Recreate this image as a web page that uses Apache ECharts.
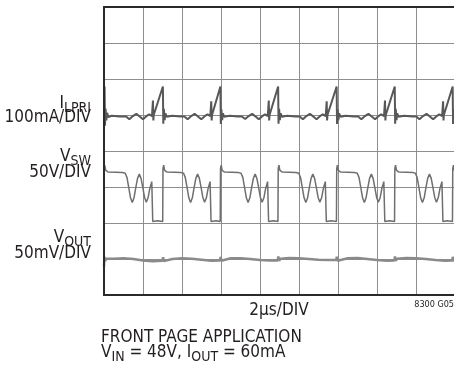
<!DOCTYPE html>
<html><head><meta charset="utf-8">
<script src="https://cdn.jsdelivr.net/npm/echarts@6/dist/echarts.min.js"></script>
<style>html,body{margin:0;padding:0;background:#fff}#c{width:454px;height:372px}</style>
</head><body><div id="c"></div>
<script>
// time in µs (2 µs/DIV), values in screen divisions (8 DIV tall)
const timeRange = [0, 20];
const divRange = [0, 8];
const traceNames = ['ILPRI', 'VSW', 'VOUT'];

const iLpri = [
 [0,5.6],[0.03,5.79],[0.05,4.7],[0.08,5.18],[0.12,4.85],[0.16,5.06],[0.22,4.94],[0.4,4.98],[0.8,4.96],[1.13,4.96],[1.30,4.88],[1.48,4.97],[1.66,5.03],[1.83,4.96],[2.0,4.88],[2.16,4.96],[2.32,5.02],[2.46,4.97],[2.50,4.97],[2.51,5.4],[2.53,4.85],[2.55,5.0],[3.02,5.79],
 [3.04,4.76],[3.07,5.17],[3.11,4.86],[3.15,5.05],[3.21,4.95],[3.5,4.98],[3.9,4.96],[4.12,4.96],[4.29,4.88],[4.47,4.97],[4.65,5.03],[4.82,4.96],[4.99,4.88],[5.15,4.96],[5.31,5.02],[5.45,4.97],[5.49,4.97],[5.50,5.38],[5.52,4.85],[5.54,5.0],[5.97,5.79],
 [5.99,4.75],[6.02,5.16],[6.06,4.86],[6.10,5.05],[6.16,4.95],[6.45,4.98],[6.85,4.96],[7.07,4.96],[7.24,4.89],[7.42,4.97],[7.60,5.03],[7.77,4.96],[7.94,4.88],[8.10,4.96],[8.26,5.02],[8.40,4.97],[8.44,4.97],[8.45,5.4],[8.47,4.85],[8.49,5.0],[8.93,5.79],
 [8.95,4.76],[8.98,5.17],[9.02,4.86],[9.06,5.05],[9.12,4.95],[9.4,4.98],[9.8,4.96],[10.03,4.96],[10.20,4.88],[10.38,4.97],[10.56,5.03],[10.73,4.96],[10.90,4.88],[11.06,4.96],[11.22,5.02],[11.37,4.97],[11.41,4.97],[11.42,5.38],[11.44,4.85],[11.46,5.0],[11.93,5.79],
 [11.95,4.75],[11.98,5.16],[12.02,4.86],[12.06,5.05],[12.12,4.95],[12.4,4.98],[12.8,4.96],[13.03,4.96],[13.20,4.88],[13.38,4.97],[13.56,5.03],[13.73,4.96],[13.90,4.88],[14.06,4.96],[14.22,5.02],[14.36,4.97],[14.40,4.97],[14.41,5.4],[14.43,4.85],[14.45,5.0],[14.91,5.79],
 [14.93,4.76],[14.96,5.17],[15.00,4.86],[15.04,5.05],[15.10,4.95],[15.4,4.98],[15.8,4.96],[16.01,4.96],[16.18,4.88],[16.36,4.97],[16.54,5.03],[16.71,4.96],[16.88,4.88],[17.04,4.96],[17.20,5.02],[17.34,4.97],[17.38,4.97],[17.39,5.38],[17.41,4.85],[17.43,5.0],[17.88,5.79],
 [17.90,4.75],[17.93,5.16],[17.97,4.86],[18.01,5.05],[18.07,4.95],[18.4,4.98],[18.9,4.96],[19.3,4.88],[19.5,4.97],[19.7,5.03],[20,4.96]
];

const vSw = [
 [0,3.47],[0.04,3.60],[0.09,3.46],[0.2,3.42],[0.6,3.41],[0.95,3.40],[1.09,3.38],[1.18,3.26],[1.27,2.98],[1.36,2.70],[1.45,2.57],[1.54,2.70],[1.63,2.98],[1.72,3.24],[1.81,3.36],[1.90,3.24],[1.99,2.98],[2.08,2.71],[2.17,2.58],[2.26,2.70],[2.35,2.96],[2.45,3.15],[2.49,3.1],[2.50,2.04],[2.75,2.06],[3.01,2.04],
 [3.025,3.52],[3.06,3.61],[3.11,3.46],[3.22,3.42],[3.6,3.41],[3.95,3.40],[4.08,3.38],[4.17,3.26],[4.26,2.98],[4.35,2.70],[4.44,2.57],[4.53,2.70],[4.62,2.98],[4.71,3.24],[4.80,3.36],[4.89,3.24],[4.98,2.98],[5.07,2.71],[5.16,2.58],[5.25,2.70],[5.34,2.96],[5.44,3.15],[5.48,3.1],[5.49,2.04],[5.75,2.06],[5.96,2.04],
 [5.975,3.52],[6.01,3.61],[6.06,3.46],[6.17,3.42],[6.55,3.41],[6.9,3.40],[7.03,3.38],[7.12,3.26],[7.21,2.98],[7.30,2.70],[7.39,2.57],[7.48,2.70],[7.57,2.98],[7.66,3.24],[7.75,3.36],[7.84,3.24],[7.93,2.98],[8.02,2.71],[8.11,2.58],[8.20,2.70],[8.29,2.96],[8.39,3.15],[8.43,3.1],[8.44,2.04],[8.7,2.06],[8.92,2.04],
 [8.935,3.52],[8.97,3.61],[9.02,3.46],[9.13,3.42],[9.5,3.41],[9.85,3.40],[9.99,3.38],[10.08,3.26],[10.17,2.98],[10.26,2.70],[10.35,2.57],[10.44,2.70],[10.53,2.98],[10.62,3.24],[10.71,3.36],[10.80,3.24],[10.89,2.98],[10.98,2.71],[11.07,2.58],[11.16,2.70],[11.25,2.96],[11.35,3.15],[11.39,3.1],[11.40,2.04],[11.65,2.06],[11.92,2.04],
 [11.935,3.52],[11.97,3.61],[12.02,3.46],[12.13,3.42],[12.5,3.41],[12.85,3.40],[12.99,3.38],[13.08,3.26],[13.17,2.98],[13.26,2.70],[13.35,2.57],[13.44,2.70],[13.53,2.98],[13.62,3.24],[13.71,3.36],[13.80,3.24],[13.89,2.98],[13.98,2.71],[14.07,2.58],[14.16,2.70],[14.25,2.96],[14.35,3.15],[14.39,3.1],[14.40,2.04],[14.65,2.06],[14.90,2.04],
 [14.915,3.52],[14.95,3.61],[15.0,3.46],[15.11,3.42],[15.5,3.41],[15.85,3.40],[15.97,3.38],[16.06,3.26],[16.15,2.98],[16.24,2.70],[16.33,2.57],[16.42,2.70],[16.51,2.98],[16.60,3.24],[16.69,3.36],[16.78,3.24],[16.87,2.98],[16.96,2.71],[17.05,2.58],[17.14,2.70],[17.23,2.96],[17.33,3.15],[17.37,3.1],[17.38,2.04],[17.6,2.06],[17.87,2.04],
 [17.885,3.52],[17.92,3.61],[17.97,3.46],[18.08,3.42],[18.5,3.41],[18.85,3.40],[18.94,3.38],[19.03,3.26],[19.12,2.98],[19.21,2.70],[19.30,2.57],[19.39,2.70],[19.48,2.98],[19.57,3.24],[19.66,3.36],[19.75,3.24],[19.84,2.98],[19.93,2.71],[20.0,2.6]
];

const vOut = [
 [0,0.78],[0.02,1.06],[0.06,0.95],[0.12,1.01],[0.5,1.01],[1.0,1.02],[1.5,1.0],[2.0,0.96],[2.5,0.94],[3.0,0.95],
 [3.03,1.05],[3.07,0.94],[3.15,0.99],[3.5,1.0],[4.0,1.02],[4.5,1.01],[5.0,0.98],[5.5,0.95],[5.95,0.96],
 [5.98,1.06],[6.02,0.95],[6.1,1.0],[6.5,1.02],[7.0,1.02],[7.5,1.0],[8.0,0.97],[8.5,0.96],[8.91,0.96],
 [8.94,1.07],[8.98,0.95],[9.05,1.01],[9.5,1.03],[10.0,1.02],[10.5,1.0],[11.0,0.98],[11.5,0.97],[11.91,0.97],
 [11.94,1.06],[11.98,0.95],[12.05,1.0],[12.5,1.02],[13.0,1.03],[13.5,1.0],[14.0,0.97],[14.5,0.95],[14.89,0.96],
 [14.92,1.07],[14.96,0.95],[15.03,1.01],[15.5,1.03],[16.0,1.02],[16.5,1.0],[17.0,0.97],[17.5,0.95],[17.86,0.96],
 [17.89,1.06],[17.93,0.95],[18.0,1.0],[18.5,1.02],[19.0,1.01],[20,0.98]
];

const FONT = '"DejaVu Sans Condensed", "Liberation Sans Narrow", sans-serif';
const TXT = '#231f20';
const richMain = {a: {fontSize: 17, lineHeight: 17, verticalAlign: 'top', fontFamily: FONT, color: TXT},
                  b: {fontSize: 14, lineHeight: 14, padding: [6,0,0,0], verticalAlign: 'top', fontFamily: FONT, color: TXT}};

function subLabel(text, x, y, align) {
  return {type: 'text', x: x, y: y, style: {text: text, rich: richMain, align: align || 'right', verticalAlign: 'top', fontFamily: FONT, fill: TXT}};
}
function plainLabel(text, x, y, align, size) {
  return {type: 'text', x: x, y: y, style: {text: text, align: align, verticalAlign: 'middle', fontSize: size || 17, fontFamily: FONT, fill: TXT}};
}

const chart = echarts.init(document.getElementById('c'), null, {renderer: 'canvas'});
chart.setOption({
  animation: false,
  backgroundColor: '#fff',
  grid: {left: 104, top: 7, width: 390, height: 288, outerBoundsMode: 'none', containLabel: false, show: true, borderColor: '#2a2a2a', borderWidth: 2, z: 5},
  xAxis: {type: 'value', min: timeRange[0], max: timeRange[1], interval: 2,
    axisLabel: {show: false}, axisTick: {show: false}, axisLine: {show: false},
    splitLine: {show: true, lineStyle: {color: '#8e8e8e', width: 1}}},
  yAxis: {type: 'value', min: divRange[0], max: divRange[1], interval: 1,
    axisLabel: {show: false}, axisTick: {show: false}, axisLine: {show: false},
    splitLine: {show: true, lineStyle: {color: '#8e8e8e', width: 1}}},
  series: [
    {name: traceNames[2], type: 'line', data: vOut, showSymbol: false, z: 2, lineStyle: {color: '#8a8a8a', width: 2.5}},
    {name: traceNames[1], type: 'line', data: vSw, showSymbol: false, z: 3, lineStyle: {color: '#6f6f6f', width: 1.5}},
    {name: traceNames[0], type: 'line', data: iLpri, showSymbol: false, z: 4, lineStyle: {color: '#585858', width: 2}}
  ],
  graphic: [
    subLabel('{a|I}{b|LPRI}', 91, 95),
    plainLabel('100mA/DIV', 91, 118, 'right'),
    subLabel('{a|V}{b|SW}', 91, 148),
    plainLabel('50V/DIV', 91, 173, 'right'),
    subLabel('{a|V}{b|OUT}', 91, 229),
    plainLabel('50mV/DIV', 91, 254, 'right'),
    plainLabel('2µs/DIV', 279, 311, 'center'),
    plainLabel('8300 G05', 454, 305, 'right', 9),
    plainLabel('FRONT PAGE APPLICATION', 101, 338, 'left'),
    subLabel('{a|V}{b|IN}{a| = 48V, I}{b|OUT}{a| = 60mA}', 101, 344, 'left')
  ]
});
</script></body></html>
